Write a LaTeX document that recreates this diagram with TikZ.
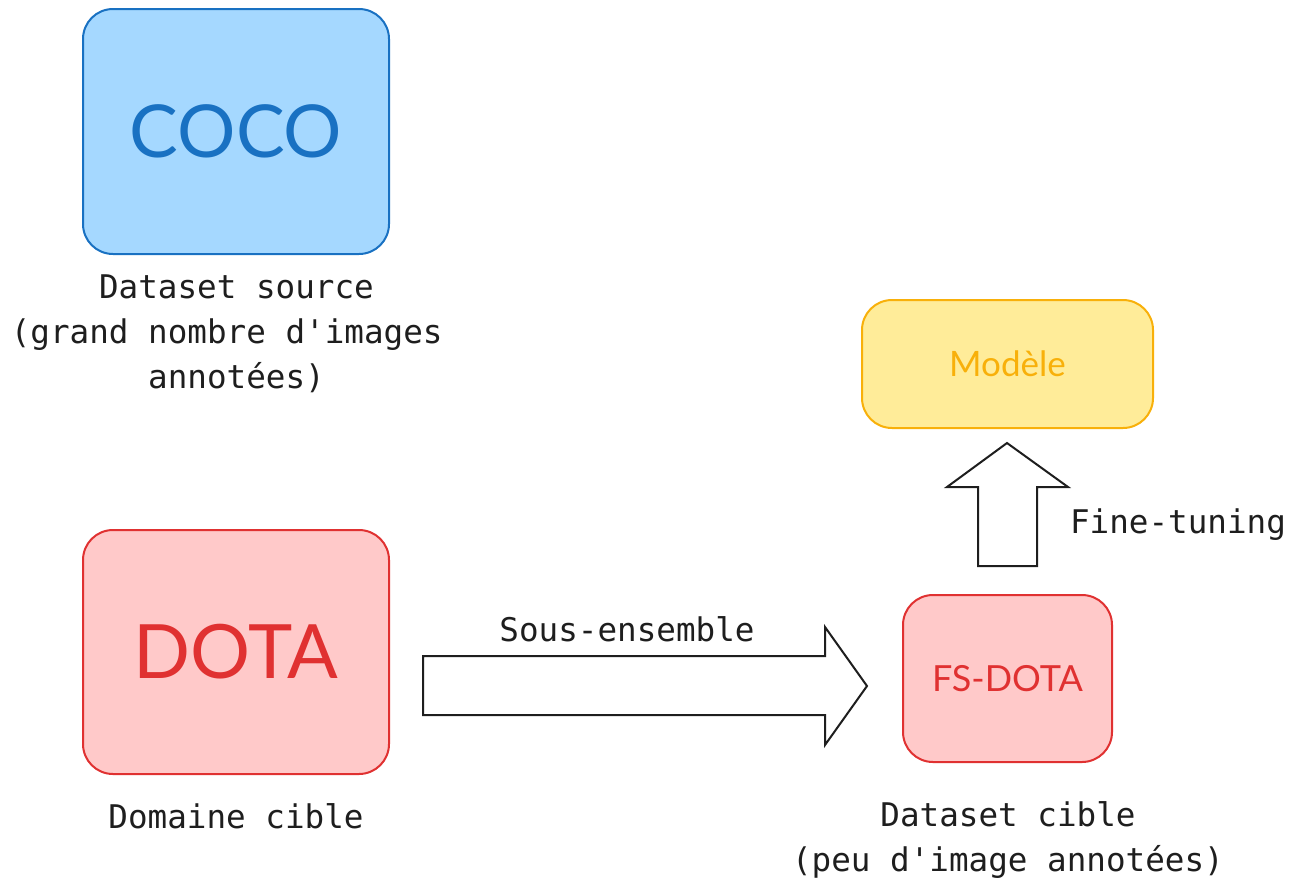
\documentclass[tikz,border=0pt]{standalone}
\usepackage{fontspec}
\setmainfont{Lato}
\setmonofont{DejaVu Sans Mono}
\usepackage{xcolor}
\usetikzlibrary{positioning}

\definecolor{bluefill}{HTML}{A5D8FF}
\definecolor{bluedraw}{HTML}{1971C2}
\definecolor{redfill}{HTML}{FFC9C9}
\definecolor{reddraw}{HTML}{E03131}
\definecolor{yellowfill}{HTML}{FFEC99}
\definecolor{yellowdraw}{HTML}{F8B00A}
\definecolor{inkcolor}{HTML}{1E1E1E}

\tikzset{
  databox/.style={draw,line width=1pt,rounded corners=15pt,inner sep=0pt},
  caption/.style={font=\ttfamily\fontsize{16.3}{22.5}\selectfont,align=center,text=inkcolor},
  blockarrow/.style={draw=inkcolor,line width=1pt,fill=white,line join=miter}
}

\begin{document}
\begin{tikzpicture}[x=0.5pt,y=-0.5pt]
    \useasboundingbox (0,0) rectangle (1301,895);

    % boxes
    \node[databox,fill=bluefill,draw=bluedraw,text=bluedraw,
          minimum width=153pt,minimum height=122.5pt,
          font=\fontsize{36.5}{40}\selectfont] (coco) at (236,131.5) {COCO};
    \node[databox,fill=redfill,draw=reddraw,text=reddraw,
          minimum width=153pt,minimum height=122pt,
          font=\fontsize{37.5}{42}\selectfont] (dota) at (236,652) {DOTA};
    \node[databox,fill=redfill,draw=reddraw,text=reddraw,
          minimum width=104.5pt,minimum height=83.5pt,
          font=\fontsize{18}{20}\selectfont] (fsdota) at (1007.5,678.5) {FS-DOTA};
    \node[databox,fill=yellowfill,draw=yellowdraw,text=yellowdraw,
          minimum width=145.5pt,minimum height=64pt,
          font=\fontsize{17.5}{19}\selectfont] (modele) at (1007.5,364) {Modèle};

    % captions
    \node[caption] (cocotext) at (236.5,334) {Dataset source\\(grand nombre d'images\phantom{x}\\annotées)};
    \node[caption] (dotatext) at (236,816) {Domaine cible};
    \node[caption] (fsdotatext) at (1008,840) {Dataset cible\\(peu d'image annotées)};

    % block arrows
    \draw[blockarrow] (423,656) -- (825,656) -- (825,627) -- (867,686)
        -- (825,745) -- (825,715) -- (423,715) -- cycle;
    \node[caption] (subset) at (627,629) {Sous-ensemble};

    \draw[blockarrow] (978,566) -- (978,487) -- (947,487) -- (1007,443)
        -- (1068,487) -- (1037,487) -- (1037,566) -- cycle;
    \node[caption] (finetune) at (1178,525) {Fine-tuning};
\end{tikzpicture}
\end{document}
